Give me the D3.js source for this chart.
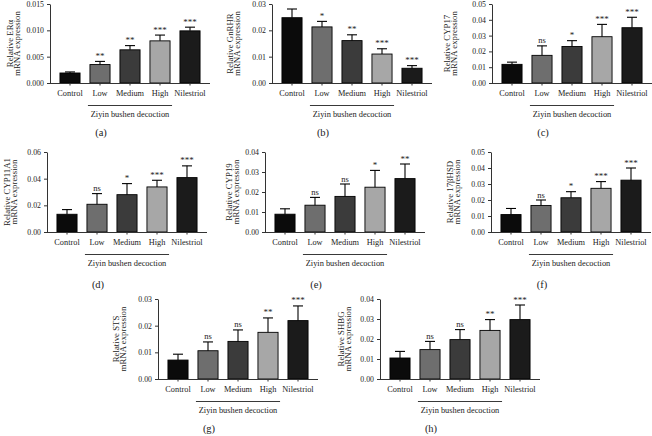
<!DOCTYPE html>
<html>
<head>
<meta charset="utf-8">
<script src="https://cdn.jsdelivr.net/npm/d3@7"></script>
<style>
  html, body { margin: 0; padding: 0; background: #fff; }
  svg { display: block; }
  text { font-family: "Liberation Serif", "DejaVu Serif", serif; fill: #222; }
</style>
</head>
<body>
<svg id="chart" width="652" height="436"></svg>
<script>
// ---------- DATA ----------
const categories = ["Control", "Low", "Medium", "High", "Nilestriol"];
const groupLabel = "Ziyin bushen decoction";
const panelLetters = ["(a)", "(b)", "(c)", "(d)", "(e)", "(f)", "(g)", "(h)"];
const genes = ["ERα", "GnRHR", "CYP17", "CYP11A1", "CYP19", "17βHSD", "STS", "SHBG"];

const meanERa     = [0.0019, 0.0035, 0.0063, 0.0080, 0.0099];
const errERa      = [0.0002, 0.0006, 0.0008, 0.0011, 0.0007];
const sigERa      = ["", "**", "**", "***", "***"];

const meanGnRHR   = [0.0248, 0.0213, 0.0161, 0.0110, 0.0056];
const errGnRHR    = [0.0033, 0.0021, 0.0022, 0.0020, 0.0010];
const sigGnRHR    = ["", "*", "**", "***", "***"];

const meanCYP17   = [0.0118, 0.0175, 0.0231, 0.0293, 0.0350];
const errCYP17    = [0.0014, 0.0060, 0.0037, 0.0078, 0.0066];
const sigCYP17    = ["", "ns", "*", "***", "***"];

const meanCYP11A1 = [0.0133, 0.0208, 0.0280, 0.0338, 0.0408];
const errCYP11A1  = [0.0035, 0.0080, 0.0083, 0.0050, 0.0088];
const sigCYP11A1  = ["", "ns", "*", "***", "***"];

const meanCYP19   = [0.0089, 0.0134, 0.0178, 0.0224, 0.0267];
const errCYP19    = [0.0027, 0.0039, 0.0062, 0.0084, 0.0073];
const sigCYP19    = ["", "ns", "ns", "*", "**"];

const mean17bHSD  = [0.0109, 0.0166, 0.0214, 0.0273, 0.0324];
const err17bHSD   = [0.0038, 0.0034, 0.0038, 0.0042, 0.0076];
const sig17bHSD   = ["", "ns", "*", "***", "***"];

const meanSTS     = [0.0071, 0.0106, 0.0141, 0.0175, 0.0219];
const errSTS      = [0.0022, 0.0033, 0.0043, 0.0054, 0.0055];
const sigSTS      = ["", "ns", "ns", "**", "***"];

const meanSHBG    = [0.0105, 0.0147, 0.0197, 0.0243, 0.0297];
const errSHBG     = [0.0033, 0.0041, 0.0050, 0.0054, 0.0073];
const sigSHBG     = ["", "ns", "ns", "**", "***"];

const yMaxes    = [0.015, 0.03, 0.05, 0.06, 0.04, 0.05, 0.03, 0.04];
const yTickStep = [0.005, 0.01, 0.01, 0.02, 0.01, 0.01, 0.01, 0.01];
const yDecimals = [3, 2, 2, 2, 2, 2, 2, 2];

const allMeans = [meanERa, meanGnRHR, meanCYP17, meanCYP11A1, meanCYP19, mean17bHSD, meanSTS, meanSHBG];
const allErrs  = [errERa, errGnRHR, errCYP17, errCYP11A1, errCYP19, err17bHSD, errSTS, errSHBG];
const allSigs  = [sigERa, sigGnRHR, sigCYP17, sigCYP11A1, sigCYP19, sig17bHSD, sigSTS, sigSHBG];

// ---------- LAYOUT (positions / styles) ----------
const axisX   = [50, 272, 492, 47, 265, 491, 158, 380];
const plotTop = [4, 4, 4, 152, 152, 152, 299, 299];
const plotBot = [83, 83, 83, 232, 232, 232, 379, 379];
const letterDy = [53, 53, 53, 56, 56, 56, 53, 53];
const ylabOff = [-37, -39, -42, -37, -33, -38, -39, -36];
const barFills = ["#0b0b0b", "#6e6e6e", "#3b3b3b", "#a7a7a7", "#1b1b1b"];
const axisColor = "#333";

const svg = d3.select("#chart");

for (let p = 0; p < 8; p++) {
  const x0 = axisX[p], yT = plotTop[p], yB = plotBot[p];
  const g = svg.append("g");
  const y = d3.scaleLinear().domain([0, yMaxes[p]]).range([yB, yT]);
  const x = d3.scaleBand().domain(categories)
    .range([x0 + 5, x0 + 155]).paddingInner(0.33).paddingOuter(0.165);
  const bw = x.bandwidth();

  const rows = categories.map((c, i) => ({
    c, m: allMeans[p][i], e: allErrs[p][i], s: allSigs[p][i], fill: barFills[i]
  }));

  // bars
  g.selectAll("rect.bar").data(rows).enter().append("rect")
    .attr("x", d => x(d.c)).attr("width", bw)
    .attr("y", d => y(d.m)).attr("height", d => yB - y(d.m))
    .attr("fill", d => d.fill).attr("stroke", "#000").attr("stroke-width", 0.9);

  // error bars (upper only)
  const cap = 10;
  g.selectAll("line.ev").data(rows).enter().append("line")
    .attr("x1", d => x(d.c) + bw / 2).attr("x2", d => x(d.c) + bw / 2)
    .attr("y1", d => y(d.m)).attr("y2", d => y(d.m + d.e))
    .attr("stroke", "#000").attr("stroke-width", 1.1);
  g.selectAll("line.ec").data(rows).enter().append("line")
    .attr("x1", d => x(d.c) + bw / 2 - cap / 2).attr("x2", d => x(d.c) + bw / 2 + cap / 2)
    .attr("y1", d => y(d.m + d.e)).attr("y2", d => y(d.m + d.e))
    .attr("stroke", "#000").attr("stroke-width", 1.1);

  // significance
  g.selectAll("text.sig").data(rows.filter(d => d.s)).enter().append("text")
    .attr("x", d => x(d.c) + bw / 2).attr("y", d => y(d.m + d.e) - 2.5)
    .attr("text-anchor", "middle").attr("font-size", d => d.s === "ns" ? 8.5 : 9)
    .attr("fill", "#333").text(d => d.s);

  // y axis
  const ticks = d3.range(0, yMaxes[p] + yTickStep[p] / 2, yTickStep[p]);
  const yAxis = d3.axisLeft(y).tickValues(ticks).tickFormat(d3.format("." + yDecimals[p] + "f"))
    .tickSize(3).tickPadding(3).tickSizeOuter(0);
  const ya = g.append("g").attr("transform", `translate(${x0},0)`).call(yAxis);
  ya.select(".domain").attr("stroke", axisColor);
  ya.selectAll(".tick line").attr("stroke", axisColor);
  ya.selectAll(".tick text").attr("font-size", 7.8).attr("font-family", "Liberation Serif").attr("fill", "#222");

  // x axis
  const xAxis = d3.axisBottom(x).tickSize(2.5).tickPadding(5).tickSizeOuter(0);
  const xa = g.append("g").attr("transform", `translate(0,${yB})`).call(xAxis);
  xa.select(".domain").attr("d", `M${x0},0.5H${x0 + 160}`).attr("stroke", axisColor);
  xa.selectAll(".tick line").attr("stroke", axisColor);
  xa.selectAll(".tick text").attr("font-size", 8.3).attr("font-family", "Liberation Serif")
    .attr("fill", "#222").attr("dy", "0.71em");

  // group line + label
  const lx1 = x("Low") - 2, lx2 = x("High") + bw + 2;
  g.append("line").attr("x1", lx1).attr("x2", lx2).attr("y1", yB + 22.5).attr("y2", yB + 22.5)
    .attr("stroke", "#222").attr("stroke-width", 0.9);
  g.append("text").attr("x", x("Medium") + bw / 2).attr("y", yB + 33.5)
    .attr("text-anchor", "middle").attr("font-size", 8.4).text(groupLabel);

  // y label
  const ymid = (yT + yB) / 2;
  const yl = g.append("text").attr("transform", `translate(${x0 + ylabOff[p]},${ymid}) rotate(-90)`)
    .attr("text-anchor", "middle").attr("font-size", 8.8);
  yl.append("tspan").attr("x", 0).attr("y", 0).text("Relative " + genes[p]);
  yl.append("tspan").attr("x", 0).attr("y", 6.8).text("mRNA expression");

  // panel letter
  g.append("text").attr("x", x0 + 51).attr("y", yB + letterDy[p])
    .attr("text-anchor", "middle").attr("font-size", 10.5).text(panelLetters[p]);
}
</script>
</body>
</html>
